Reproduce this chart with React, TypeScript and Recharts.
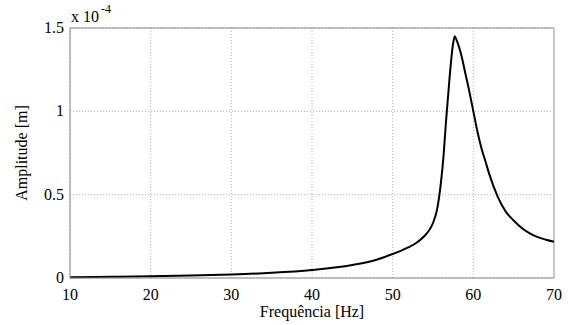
import React from "react";
import { LineChart, Line, XAxis, YAxis, CartesianGrid, ReferenceLine } from "recharts";

const freqHz = [10, 15, 20, 25, 30, 35, 40, 45, 48, 50, 51, 52, 53, 54, 54.5, 55, 55.5, 56, 56.3, 56.6, 57, 57.3, 57.5, 57.7, 57.9, 58.2, 58.5, 59, 59.5, 60, 60.5, 61, 61.5, 62, 63, 64, 65, 66, 67, 68, 69, 70];
const amplitude = [0.004, 0.007, 0.011, 0.015, 0.021, 0.031, 0.048, 0.078, 0.11, 0.144, 0.163, 0.185, 0.213, 0.255, 0.285, 0.33, 0.41, 0.58, 0.73, 0.93, 1.17, 1.33, 1.41, 1.45, 1.43, 1.39, 1.34, 1.23, 1.12, 1.0, 0.88, 0.78, 0.7, 0.62, 0.49, 0.4, 0.345, 0.3, 0.268, 0.245, 0.23, 0.218];
const xTicks = [10, 20, 30, 40, 50, 60, 70];
const yTicks = [0, 0.5, 1, 1.5];

const data = freqHz.map((f, i) => ({ f, a: amplitude[i] }));

const font = "Liberation Serif";

const XTick = (props: any) => {
  const { x, y, payload } = props;
  return (
    <text x={x} y={y + 14} textAnchor="middle" fontFamily={font} fontSize={16} fill="#000">
      {payload.value}
    </text>
  );
};

const YTick = (props: any) => {
  const { x, y, payload } = props;
  return (
    <text x={x + 2} y={y + 5} textAnchor="end" fontFamily={font} fontSize={16} fill="#000">
      {payload.value}
    </text>
  );
};

export default function App() {
  return (
    <div style={{ position: "absolute", left: 0, top: 0, width: 568, height: 325, background: "#fff", fontFamily: font }}>
      <LineChart width={568} height={325} data={data} margin={{ top: 28, right: 14, bottom: 0, left: 0 }}>
        <CartesianGrid stroke="#b0b0b0" strokeDasharray="1 2" />
        <XAxis
          dataKey="f"
          type="number"
          domain={[10, 70]}
          ticks={xTicks}
          height={47}
          tickLine={false}
          axisLine={{ stroke: "#888" }}
          tick={<XTick />}
        />
        <YAxis
          type="number"
          domain={[0, 1.5]}
          ticks={yTicks}
          width={70}
          tickLine={false}
          axisLine={{ stroke: "#888" }}
          tick={<YTick />}
        />
        <ReferenceLine y={1.5} stroke="#888" />
        <ReferenceLine x={70} stroke="#c8c8c8" strokeWidth={2} />
        <Line dataKey="a" type="monotone" stroke="#000" strokeWidth={2} dot={false} isAnimationActive={false} />
      </LineChart>
      <div style={{ position: "absolute", left: 71, top: 9, fontSize: 16, color: "#000", whiteSpace: "nowrap", lineHeight: "16px" }}>
        x 10<span style={{ position: "relative", top: -9, fontSize: 12, marginLeft: 2 }}>-4</span>
      </div>
      <div style={{ position: "absolute", left: 212, width: 200, top: 303, textAlign: "center", fontSize: 16, color: "#000", lineHeight: "18px" }}>
        Frequência [Hz]
      </div>
      <div style={{ position: "absolute", left: 22, top: 153, width: 0, height: 0 }}>
        <div style={{ position: "absolute", left: -100, top: -9, width: 200, textAlign: "center", fontSize: 16, color: "#000", lineHeight: "18px", transform: "rotate(-90deg)", whiteSpace: "nowrap" }}>
          Amplitude [m]
        </div>
      </div>
    </div>
  );
}
